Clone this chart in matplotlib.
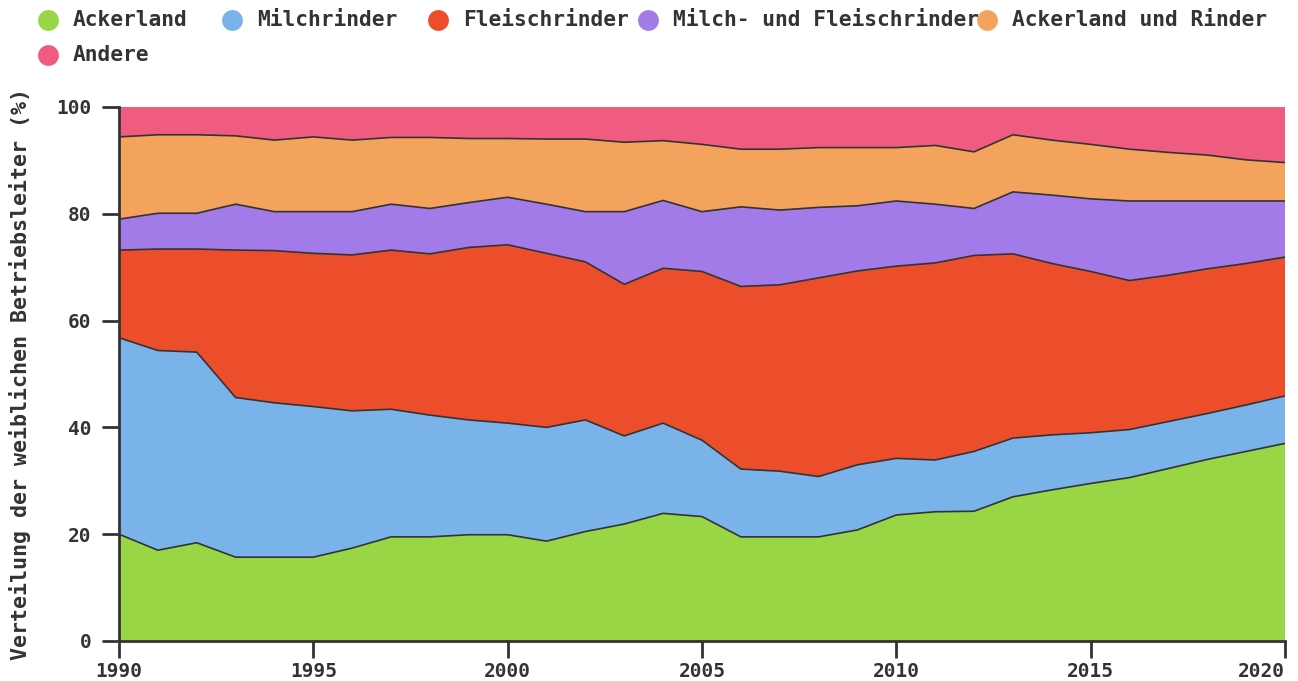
import matplotlib
matplotlib.use('Agg')
import matplotlib.pyplot as plt
from matplotlib.lines import Line2D
import numpy as np

years = list(range(1990, 2021))
ackerland = [20.0, 17.0, 18.4, 15.7, 15.7, 15.7, 17.4, 19.5, 19.5, 19.9, 19.9,
             18.7, 20.5, 21.9, 23.9, 23.3, 19.5, 19.5, 19.5, 20.8, 23.6,
             24.2, 24.3, 27.0, 28.3, 29.5, 30.6, 32.3, 34.0, 35.5, 37.0]
milchrinder = [36.8, 37.4, 35.7, 29.9, 28.9, 28.2, 25.7, 23.9, 22.8, 21.5, 20.9,
               21.3, 20.9, 16.5, 16.9, 14.3, 12.7, 12.3, 11.3, 12.2, 10.6,
               9.7, 11.2, 11.0, 10.3, 9.5, 9.0, 8.8, 8.6, 8.7, 8.9]
fleischrinder = [16.4, 19.0, 19.3, 27.6, 28.5, 28.7, 29.2, 29.8, 30.2, 32.3, 33.4,
                 32.6, 29.6, 28.4, 29.0, 31.6, 34.2, 34.9, 37.2, 36.3, 36.0,
                 36.9, 36.7, 34.5, 32.1, 30.2, 27.9, 27.4, 27.1, 26.5, 26.0]
milch_fleisch = [5.8, 6.7, 6.7, 8.6, 7.3, 7.8, 8.1, 8.6, 8.5, 8.4, 8.9,
                 9.2, 9.4, 13.6, 12.7, 11.2, 14.9, 14.0, 13.2, 12.2, 12.2,
                 11.0, 8.8, 11.6, 12.8, 13.6, 14.9, 13.9, 12.7, 11.7, 10.5]
ackerland_rinder = [15.4, 14.7, 14.7, 12.8, 13.4, 14.0, 13.4, 12.5, 13.3, 12.0, 11.0,
                    12.2, 13.6, 13.0, 11.2, 12.6, 10.8, 11.4, 11.2, 10.9, 10.0,
                    11.0, 10.6, 10.7, 10.3, 10.2, 9.7, 9.1, 8.6, 7.7, 7.2]
andere = [5.6, 5.2, 5.2, 5.4, 6.2, 5.6, 6.2, 5.7, 5.7, 5.9, 5.9,
          6.0, 6.0, 6.6, 6.3, 7.0, 7.9, 7.9, 7.6, 7.6, 7.6,
          7.2, 8.4, 5.2, 6.2, 7.0, 7.9, 8.5, 9.0, 9.9, 10.4]

series_names = ['Ackerland', 'Milchrinder', 'Fleischrinder',
                'Milch- und Fleischrinder', 'Ackerland und Rinder', 'Andere']
colors = ['#98d646', '#7ab3e9', '#ec4e2c', '#a37be9', '#f4a35c', '#f05b80']
x_ticks = [1990, 1995, 2000, 2005, 2010, 2015, 2020]
y_ticks = [0, 20, 40, 60, 80, 100]

series = [ackerland, milchrinder, fleischrinder, milch_fleisch, ackerland_rinder, andere]

W, H = 1298, 681
fig = plt.figure(figsize=(W / 100, H / 100), dpi=100)
ax = fig.add_axes([119 / W, 1 - 641 / H, (1285 - 119) / W, (641 - 107) / H])

ax.stackplot(years, *series, colors=colors, linewidth=0)
cum = np.cumsum(np.array(series), axis=0)
for row in cum[:-1]:
    ax.plot(years, row, color='#333333', lw=1.2, zorder=3)

ax.set_xlim(1990, 2020)
ax.set_ylim(0, 100)
for s in ['top', 'right']:
    ax.spines[s].set_visible(False)
for s in ['left', 'bottom']:
    ax.spines[s].set_color('#333333')
    ax.spines[s].set_linewidth(2)
    ax.spines[s].set_zorder(5)

mono = 'DejaVu Sans Mono'
ax.set_xticks(x_ticks)
ax.set_xticklabels([str(t) for t in x_ticks], fontsize=14, fontweight='bold',
                   family=mono, color='#333333')
ax.get_xticklabels()[-1].set_ha('right')
ax.set_yticks(y_ticks)
ax.set_yticklabels([str(t) for t in y_ticks], fontsize=14, fontweight='bold',
                   family=mono, color='#333333')
ax.tick_params(axis='both', direction='out', length=12, width=2, color='#333333')
ax.tick_params(axis='x', pad=3)
ax.tick_params(axis='y', pad=8)

ax.set_ylabel('Verteilung der weiblichen Betriebsleiter (%)', fontsize=15.6,
              fontweight='bold', family=mono, color='#333333')
ax.yaxis.set_label_coords((31 - 119) / (1285 - 119), 0.5)

legend_pos = [(48, 20), (232, 20), (438, 20), (648, 20), (987, 20), (48, 55)]
for name, col, (px, py) in zip(series_names, colors, legend_pos):
    fig.text((px + 25) / W, 1 - py / H, name, va='center', ha='left', fontsize=15.3,
             fontweight='bold', family=mono, color='#333333', zorder=3)
    fig.add_artist(Line2D([px / W], [1 - py / H], transform=fig.transFigure,
                          marker='o', markersize=15, color=col, markeredgewidth=0,
                          linestyle='none', zorder=6))

fig.savefig('out.png', dpi=100)
